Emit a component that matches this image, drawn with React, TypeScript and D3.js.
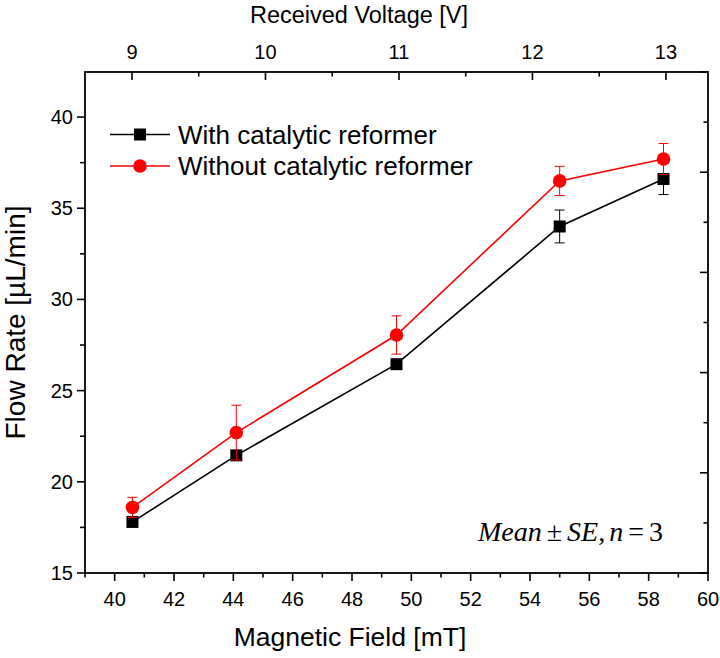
import React from "react";
import * as d3 from "d3";

const fields = [40.6, 44.1, 49.5, 55.0, 58.5];
const withCat = [17.8, 21.45, 26.45, 34.0, 36.6];
const withCatErr = [0.2, 0.2, 0.2, 0.9, 0.85];
const withoutCat = [18.6, 22.7, 28.05, 36.5, 37.7];
const withoutCatErr = [0.55, 1.5, 1.05, 0.8, 0.85];
const xTicks = [40, 42, 44, 46, 48, 50, 52, 54, 56, 58, 60];
const yTicks = [15, 20, 25, 30, 35, 40];
const voltTicks = [9, 10, 11, 12, 13];
const seriesNames = ["With catalytic reformer", "Without catalytic reformer"];

const W = 720, H = 658;
const L = 85, R = 708, T = 72, B = 573;
const FONT = "'Liberation Sans', Arial, sans-serif";

export default function App() {
  const x = d3.scaleLinear().domain([39, 60]).range([L, R]);
  const y = d3.scaleLinear().domain([15, 42.47]).range([B, T]);
  const xt = d3.scaleLinear().domain([8.648, 13.315]).range([L, R]);
  const yr = d3.scaleLinear().domain([0, 5]).range([B, T]);

  const line = d3.line<number>().x((_, i) => x(fields[i])).y((d) => y(d));

  const xMinor = d3.range(39, 60.01, 1);
  const yMinor = d3.range(15, 42.4, 2.5);
  const tMinor = d3.range(9, 13.31, 0.5);
  const rMinor = d3.range(0, 5.01, 0.5);

  const series = [
    { vals: withCat, errs: withCatErr, color: "#000000", marker: "square" },
    { vals: withoutCat, errs: withoutCatErr, color: "#ff0000", marker: "circle" },
  ];

  const marker = (kind: string, cx: number, cy: number, color: string, key: any) =>
    kind === "square" ? (
      <rect key={key} x={cx - 6} y={cy - 6} width={12} height={12} fill={color} />
    ) : (
      <circle key={key} cx={cx} cy={cy} r={6.8} fill={color} />
    );

  return (
    <svg width={W} height={H} style={{ position: "absolute", left: 0, top: 0, background: "#fff" }}>
      <rect x={0} y={0} width={W} height={H} fill="#fff" />
      {/* bottom ticks */}
      {xMinor.map((v) => {
        const major = Math.abs(v % 2) < 1e-6;
        return <line key={"bx" + v} x1={x(v)} x2={x(v)} y1={B} y2={B + (major ? 8 : 4.5)} stroke="#000" strokeWidth={1.6} />;
      })}
      {xTicks.map((v) => (
        <text key={"bl" + v} x={x(v)} y={606} textAnchor="middle" fontFamily={FONT} fontSize={20}>{v}</text>
      ))}
      {/* left ticks */}
      {yMinor.map((v) => {
        const major = Math.abs(v % 5) < 1e-6;
        return <line key={"ly" + v} x1={L} x2={L - (major ? 8 : 5)} y1={y(v)} y2={y(v)} stroke="#000" strokeWidth={1.6} />;
      })}
      {yTicks.map((v) => (
        <text key={"ll" + v} x={73} y={y(v) + 7} textAnchor="end" fontFamily={FONT} fontSize={20}>{v}</text>
      ))}
      {/* top ticks (inward) */}
      {tMinor.map((v) => {
        const major = Math.abs(v % 1) < 1e-6;
        return <line key={"tx" + v} x1={xt(v)} x2={xt(v)} y1={T} y2={T + (major ? 8 : 4.5)} stroke="#000" strokeWidth={1.6} />;
      })}
      {voltTicks.map((v) => (
        <text key={"tl" + v} x={xt(v)} y={59} textAnchor="middle" fontFamily={FONT} fontSize={20}>{v}</text>
      ))}
      {/* right ticks (inward) */}
      {rMinor.map((v) => {
        const major = Math.abs(v % 1) < 1e-6;
        return <line key={"ry" + v} x1={R} x2={R - (major ? 8 : 4.5)} y1={yr(v)} y2={yr(v)} stroke="#000" strokeWidth={1.6} />;
      })}
      {/* frame */}
      <rect x={L} y={T} width={R - L} height={B - T} fill="none" stroke="#000" strokeWidth={1.8} />

      {/* series */}
      {series.map((s, si) => (
        <g key={"s" + si}>
          <path d={line(s.vals) || ""} fill="none" stroke={s.color} strokeWidth={1.6} />
          {s.vals.map((v, i) => {
            const cx = x(fields[i]);
            const y1 = y(v + s.errs[i]);
            const y2 = y(v - s.errs[i]);
            return (
              <g key={"e" + i}>
                <line x1={cx} x2={cx} y1={y1} y2={y2} stroke={s.color} strokeWidth={1} />
                <line x1={cx - 5} x2={cx + 5} y1={y1} y2={y1} stroke={s.color} strokeWidth={1} />
                <line x1={cx - 5} x2={cx + 5} y1={y2} y2={y2} stroke={s.color} strokeWidth={1} />
              </g>
            );
          })}
          {s.vals.map((v, i) => marker(s.marker, x(fields[i]), y(v), s.color, "m" + i))}
        </g>
      ))}

      {/* legend */}
      {series.map((s, si) => {
        const ly = 134.5 + si * 31.5;
        return (
          <g key={"lg" + si}>
            <line x1={110} x2={170} y1={ly} y2={ly} stroke={s.color} strokeWidth={1.6} />
            {marker(s.marker, 140, ly, s.color, "lm" + si)}
            <text x={178} y={ly + 9} fontFamily={FONT} fontSize={26}>{seriesNames[si]}</text>
          </g>
        );
      })}

      {/* annotation */}
      <text x={663} y={541} textAnchor="end" fontFamily="'Liberation Serif', 'Times New Roman', serif" fontSize={28}>
        <tspan fontStyle="italic">Mean</tspan>
        <tspan dx={5}>±</tspan>
        <tspan dx={5} fontStyle="italic">SE</tspan>
        <tspan>,</tspan>
        <tspan dx={4} fontStyle="italic">n</tspan>
        <tspan dx={5}>=</tspan>
        <tspan dx={5}>3</tspan>
      </text>

      {/* axis titles */}
      <text x={359} y={23} textAnchor="middle" fontFamily={FONT} fontSize={23.5}>Received Voltage [V]</text>
      <text x={350} y={646} textAnchor="middle" fontFamily={FONT} fontSize={26.5}>Magnetic Field [mT]</text>
      <text transform={`translate(25, ${(T + B) / 2}) rotate(-90)`} textAnchor="middle" fontFamily={FONT} fontSize={28}>Flow Rate [µL/min]</text>
    </svg>
  );
}
